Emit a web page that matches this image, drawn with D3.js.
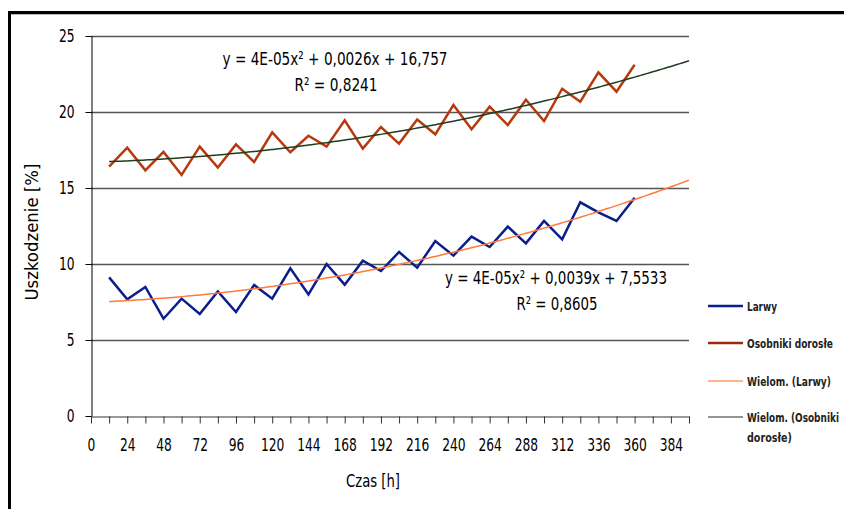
<!DOCTYPE html>
<html>
<head>
    <meta charset="utf-8">
    <style>
        body { margin: 0; background: #fff; }
        svg { display: block; }
        .axis text, .lbl {
            font-family: "DejaVu Sans Condensed", "Liberation Sans", sans-serif;
            fill: #000;
        }
        .axis text { font-size: 17px; }
        .legend text {
            font-family: "DejaVu Sans Condensed", "Liberation Sans", sans-serif;
            font-size: 13px;
            font-weight: bold;
            fill: #222;
        }
    </style>
    <script src="https://d3js.org/d3.v7.min.js"></script>
</head>
<body>
    <script>
        // hours of measurement
        var hours = [12, 24, 36, 48, 60, 72, 84, 96, 108, 120, 132, 144, 156, 168, 180,
                     192, 204, 216, 228, 240, 252, 264, 276, 288, 300, 312, 324, 336, 348, 360];
        // damage [%]
        var larwy = [9.12, 7.68, 8.49, 6.40, 7.72, 6.71, 8.20, 6.84, 8.62, 7.72, 9.71, 8.00, 10.00, 8.64, 10.22,
                     9.54, 10.79, 9.76, 11.51, 10.55, 11.80, 11.12, 12.46, 11.36, 12.83, 11.62, 14.06, 13.40, 12.83, 14.36];
        var dorosle = [16.40, 17.65, 16.16, 17.37, 15.86, 17.72, 16.34, 17.87, 16.71, 18.66, 17.35, 18.44, 17.72, 19.45, 17.59,
                       19.01, 17.92, 19.50, 18.53, 20.46, 18.86, 20.35, 19.14, 20.81, 19.40, 21.53, 20.68, 22.61, 21.34, 23.11];
        var xTicks = d3.range(0, 397, 12);
        var yTicks = [0, 5, 10, 15, 20, 25];
        var seriesNames = ["Larwy", "Osobniki dorosłe", "Wielom. (Larwy)", "Wielom. (Osobniki dorosłe)"];
        var eqTexts = [["y = 4E-05x² + 0,0026x + 16,757", "R² = 0,8241"],
                       ["y = 4E-05x² + 0,0039x + 7,5533", "R² = 0,8605"]];

        var width = 844, height = 509;
        var svg = d3.select("body").append("svg").attr("width", width).attr("height", height);

        // outer frame (top + left visible)
        svg.append("line").attr("x1", 8).attr("x2", width).attr("y1", 14.5).attr("y2", 14.5)
           .attr("stroke", "#bbb").attr("stroke-width", 1);
        svg.append("path").attr("d", "M9.5," + height + "V12.5H" + width)
           .attr("fill", "none").attr("stroke", "#000").attr("stroke-width", 3);

        var x = d3.scaleLinear().domain([0, 396]).range([91, 689]);
        var y = d3.scaleLinear().domain([0, 25]).range([416, 36]);

        // gridlines
        svg.append("g").selectAll("line")
           .data(yTicks.filter(function(d) { return d > 0; }))
           .enter().append("line")
           .attr("x1", x(0)).attr("x2", x(396))
           .attr("y1", function(d) { return Math.round(y(d)) + 0.5; })
           .attr("y2", function(d) { return Math.round(y(d)) + 0.5; })
           .attr("stroke", "#555").attr("stroke-width", 1.4);

        // axes
        var xAxis = d3.axisBottom(x).tickValues(xTicks).tickSize(7).tickSizeOuter(0).tickPadding(15)
                      .tickFormat(function(d) { return d % 24 === 0 ? d : ""; });
        var gx = svg.append("g").attr("class", "axis").attr("transform", "translate(0," + (y(0) + 0.5) + ")").call(xAxis);
        gx.selectAll("line, path").attr("stroke", "#333");
        gx.selectAll("text").attr("textLength", function(d) { return String(d).length * 7.8; })
          .attr("lengthAdjust", "spacingAndGlyphs");

        var yAxis = d3.axisLeft(y).tickValues(yTicks).tickSize(6).tickSizeOuter(0).tickPadding(11);
        var gy = svg.append("g").attr("class", "axis").attr("transform", "translate(" + (x(0) + 0.5) + ",0)").call(yAxis);
        gy.selectAll("line, path").attr("stroke", "#000");
        gy.selectAll("text").attr("textLength", function(d) { return String(d).length * 7.8; })
          .attr("lengthAdjust", "spacingAndGlyphs");

        // axis titles
        svg.append("text").attr("class", "lbl").attr("x", 373).attr("y", 487)
           .attr("text-anchor", "middle").style("font-size", "17px")
           .attr("textLength", 54).attr("lengthAdjust", "spacingAndGlyphs")
           .text("Czas [h]");
        svg.append("text").attr("class", "lbl").attr("transform", "translate(38,232) rotate(-90)")
           .attr("text-anchor", "middle").style("font-size", "17px")
           .attr("textLength", 137).attr("lengthAdjust", "spacingAndGlyphs")
           .text("Uszkodzenie [%]");

        // quadratic least-squares fit
        function polyFit(xs, ys) {
            var n = xs.length, s = [0, 0, 0, 0, 0], t = [0, 0, 0];
            for (var i = 0; i < n; i++) {
                var p = 1;
                for (var k = 0; k < 5; k++) { s[k] += p; if (k < 3) t[k] += p * ys[i]; p *= xs[i]; }
            }
            var m = [[s[0], s[1], s[2], t[0]], [s[1], s[2], s[3], t[1]], [s[2], s[3], s[4], t[2]]];
            for (var c = 0; c < 3; c++) {
                for (var r = c + 1; r < 3; r++) {
                    var f = m[r][c] / m[c][c];
                    for (var q = c; q < 4; q++) m[r][q] -= f * m[c][q];
                }
            }
            var b = [0, 0, 0];
            for (var r2 = 2; r2 >= 0; r2--) {
                var v = m[r2][3];
                for (var q2 = r2 + 1; q2 < 3; q2++) v -= m[r2][q2] * b[q2];
                b[r2] = v / m[r2][r2];
            }
            return function(xx) { return b[0] + b[1] * xx + b[2] * xx * xx; };
        }

        var line = d3.line().x(function(d) { return x(d[0]); }).y(function(d) { return y(d[1]); });
        var trendX = d3.range(12, 396.1, 2);

        var fitL = polyFit(hours, larwy), fitD = polyFit(hours, dorosle);

        // data lines
        svg.append("path").datum(d3.zip(hours, dorosle)).attr("d", line)
           .attr("fill", "none").attr("stroke", "#b53a0e").attr("stroke-width", 2.5).attr("stroke-linejoin", "miter");
        svg.append("path").datum(d3.zip(hours, larwy)).attr("d", line)
           .attr("fill", "none").attr("stroke", "#0a1e8c").attr("stroke-width", 2.5).attr("stroke-linejoin", "miter");

        // trendlines
        svg.append("path").datum(trendX.map(function(t) { return [t, fitL(t)]; })).attr("d", line)
           .attr("fill", "none").attr("stroke", "#ff7a3c").attr("stroke-width", 1.5);
        svg.append("path").datum(trendX.map(function(t) { return [t, fitD(t)]; })).attr("d", line)
           .attr("fill", "none").attr("stroke", "#1f3d1f").attr("stroke-width", 1.5);

        // equations
        var eqPos = [[335, 65], [556, 284]];
        var eqLen = [[225, 83], [222, 81]];
        eqTexts.forEach(function(e, i) {
            svg.append("text").attr("class", "lbl").attr("x", eqPos[i][0]).attr("y", eqPos[i][1])
               .attr("text-anchor", "middle").style("font-size", "18px")
               .attr("textLength", eqLen[i][0]).attr("lengthAdjust", "spacingAndGlyphs").text(e[0]);
            svg.append("text").attr("class", "lbl").attr("x", eqPos[i][0] + 1).attr("y", eqPos[i][1] + 26)
               .attr("text-anchor", "middle").style("font-size", "18px")
               .attr("textLength", eqLen[i][1]).attr("lengthAdjust", "spacingAndGlyphs").text(e[1]);
        });

        // legend: squeeze each label horizontally to the narrow width of the original
        var legColors = ["#0a1e8c", "#9a2a08", "#ff9a6a", "#707070"];
        var legWidths = [2.5, 2.5, 1.5, 1.5];
        var legY = [306, 343, 381, 417];
        var legLen = [30, 86, 84, 92, 45];
        var leg = svg.append("g").attr("class", "legend");
        function squeezed(str, ty, w) {
            var t = leg.append("text").attr("x", 0).attr("y", 0).text(str);
            var natural = t.node().getComputedTextLength();
            t.attr("transform", "translate(747," + ty + ") scale(" + (w / natural) + ",1)");
        }
        seriesNames.forEach(function(name, i) {
            leg.append("line").attr("x1", 708).attr("x2", 743).attr("y1", legY[i]).attr("y2", legY[i])
               .attr("stroke", legColors[i]).attr("stroke-width", legWidths[i]);
            if (i === 3) {
                squeezed("Wielom. (Osobniki", legY[i] + 5, legLen[3]);
                squeezed("dorosłe)", legY[i] + 25, legLen[4]);
            } else {
                squeezed(name, legY[i] + 5, legLen[i]);
            }
        });
    </script>
</body>
</html>
